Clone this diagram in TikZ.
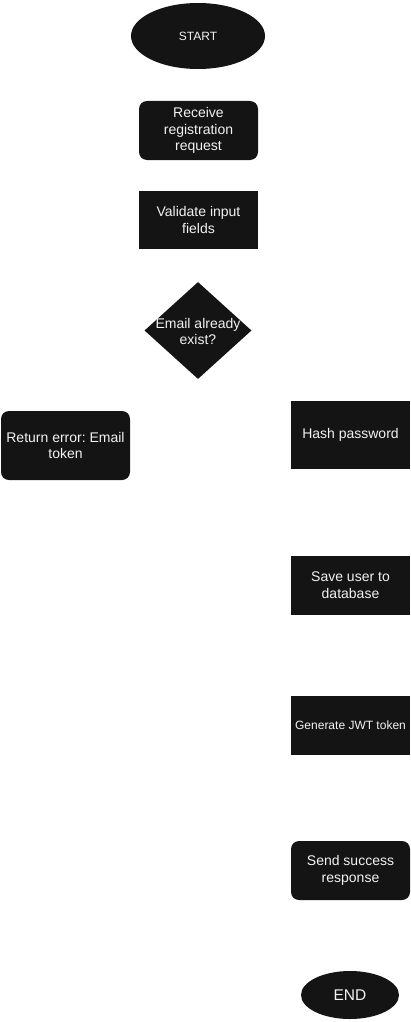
\documentclass[tikz,border=0pt]{standalone}
\usepackage{fontspec}
\setmainfont{Liberation Sans}
\usetikzlibrary{shapes.geometric}
\frenchspacing
\definecolor{boxfill}{HTML}{141414}
\definecolor{boxtext}{HTML}{F2F2F2}
\tikzset{
  base/.style={fill=boxfill, draw=none, text=boxtext, align=center, inner sep=0pt,
    font=\fontsize{14}{16.7}\selectfont},
  sqbox/.style={base, rectangle, minimum width=119pt},
  rbox/.style={base, rectangle, rounded corners=8pt, minimum width=119pt},
  oval/.style={base, ellipse},
  decision/.style={fill=boxfill, draw=none, diamond, inner sep=0pt},
  plain/.style={text=boxtext, align=center, inner sep=0pt, font=\fontsize{14}{16.7}\selectfont}
}
\begin{document}
\begin{tikzpicture}[x=1pt,y=1pt]
\useasboundingbox (0,0) rectangle (411,-1022);
\node[oval, minimum width=134pt, minimum height=66pt, font=\fontsize{12}{14}\selectfont] (start) at (198,-36) {START};
\node[rbox, minimum height=59pt] (recv) at (198.5,-130.5) {Receive\\registration\\request};
\node[sqbox, minimum height=58pt] (valid) at (198.5,-220) {Validate input\\fields};
\node[decision, minimum width=107pt, minimum height=97pt] (dec) at (198,-330.5) {};
\node[plain] (dectext) at ([yshift=-1pt]dec.center) {Email already\\exist?};
\node[rbox, minimum width=129pt, minimum height=69pt] (err) at (65.5,-445.5) {Return error: Email\\token};
\node[sqbox, minimum height=68pt] (hash) at (350.5,-435) {Hash password};
\node[sqbox, minimum height=59pt] (save) at (350.5,-585.5) {Save user to\\database};
\node[sqbox, minimum height=59pt, font=\fontsize{12}{14}\selectfont] (jwt) at (350.5,-725.5) {Generate JWT token};
\node[rbox, minimum height=59pt] (send) at (350.5,-870.5) {Send success\\response};
\node[oval, minimum width=98pt, minimum height=48pt, font=\fontsize{15.5}{18}\selectfont] (end) at (350,-995) {END};
\end{tikzpicture}
\end{document}
